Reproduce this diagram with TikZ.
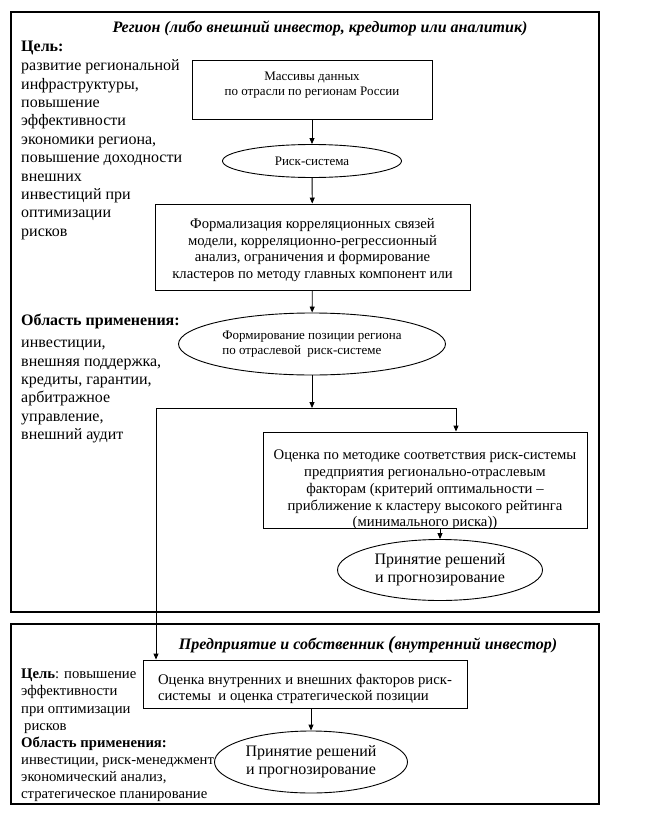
\documentclass[tikz,border=0pt]{standalone}
\usepackage{fontspec}
\setmainfont{Liberation Serif}
\usetikzlibrary{positioning,shapes.geometric,arrows.meta}

\begin{document}
\begin{tikzpicture}[
    x=1pt, y=-1pt,
    frm/.style={draw, line width=1.1pt},
    dbox/.style={draw, line width=0.9pt, inner sep=0pt, align=center},
    oval/.style={draw, ellipse, line width=0.9pt, inner sep=0pt, align=center},
    arr/.style={-{Triangle[length=6pt,width=5pt]}, line width=0.9pt},
    ln/.style={line width=0.9pt},
    ttl/.style={font=\fontsize{16}{17}\selectfont\bfseries\itshape},
    btxt/.style={font=\fontsize{14.7}{16.7}\selectfont, align=center},
    stxt/.style={font=\fontsize{13}{14.5}\selectfont, align=center},
    mtxt/.style={font=\fontsize{16}{18}\selectfont, align=center},
    ltxt/.style={font=\fontsize{16}{18.4}\selectfont, align=left, anchor=north west, inner sep=0pt},
    ktxt/.style={font=\fontsize{14.7}{17.1}\selectfont, align=left, anchor=north west, inner sep=0pt},
]
\useasboundingbox (0,0) rectangle (648,816);

% frames
\draw[frm] (11,12) rectangle (599,612);
\draw[frm] (11,624) rectangle (599,804);

% region part
\node[ttl] (regT) at (320,28) {Регион (либо внешний инвестор, кредитор или аналитик)};
\node[ltxt, font=\fontsize{16}{18.4}\selectfont\bfseries] (goalA) at (21,41) {Цель:};
\node[ltxt] (goalAT) at (21,59.5) {развитие региональной\\инфраструктуры,\\повышение\\эффективности\\экономики региона,\\повышение доходности\\внешних\\инвестиций при\\оптимизации\\рисков};
\node[ltxt, font=\fontsize{16}{18.4}\selectfont\bfseries] (useA) at (21,314) {Область применения:};
\node[ltxt] (useAT) at (21,340) {инвестиции,\\внешняя поддержка,\\кредиты, гарантии,\\арбитражное\\управление,\\внешний аудит};

\node[dbox, minimum width=240, minimum height=59,
      label={[stxt, yshift=4.5pt]center:{Массивы данных\\по отрасли по регионам России}}] (mass) at (312,89.5) {};
\node[oval, stxt, minimum width=179, minimum height=33] (risk) at (312,161) {Риск-система};
\node[dbox, minimum width=315, minimum height=86,
      label={[btxt, font=\fontsize{14.7}{16.4}\selectfont, yshift=-3pt]center:{Формализация корреляционных связей\\модели, корреляционно-регрессионный\\анализ, ограничения и формирование\\кластеров по методу главных компонент или}}] (formal) at (312.5,247) {};
\node[oval, stxt, align=left, minimum width=267, minimum height=62] (pos) at (312,344)
    {Формирование позиции региона\\по отраслевой\ \ риск-системе};

\node[dbox, minimum width=324, minimum height=96] (ocen) at (425,480) {};
\begin{scope}
  \clip (ocen.south west) rectangle (ocen.north east);
  \node[btxt] (ocenT) at ([yshift=-10pt]ocen.center)
    {Оценка по методике соответствия риск-системы\\предприятия регионально-отраслевым\\факторам (критерий оптимальности --\\приближение к кластеру высокого рейтинга\\(минимального риска))};
\end{scope}
\node[oval, mtxt, minimum width=205, minimum height=61] (dec1) at (440,570) {Принятие решений\\и прогнозирование};

% enterprise part
\node[ttl] (entT) at (368,645) {Предприятие и собственник {\fontsize{19}{19}\selectfont(}внутренний инвестор)};
\node[ktxt] (goalB) at (21,669) {\textbf{Цель}: повышение\\эффективности\\при оптимизации\\\hspace{3pt}рисков\\\textbf{Область применения:}\\инвестиции, риск-менеджмент\\экономический анализ,\\стратегическое планирование};
\node[dbox, minimum width=324, minimum height=48,
      label={[btxt, align=left, yshift=-5pt]center:{Оценка внутренних и внешних факторов риск-\\системы\ \ и оценка стратегической позиции}}] (est) at (305,684) {};
\node[oval, mtxt, minimum width=193, minimum height=62] (dec2) at (311,762) {Принятие решений\\и прогнозирование};

% connectors
\coordinate (split) at (312,408);
\coordinate (lft) at (156,408);
\coordinate (rgt) at (456,408);
\draw[arr] (mass) -- (risk);
\draw[arr] (risk) -- (formal);
\draw[arr] (formal) -- (pos);
\draw[arr] (pos) -- (split);
\draw[ln] (lft) -- (rgt);
\draw[arr] (rgt) -- (rgt |- ocen.north);
\draw[arr] (dec1.north |- ocen.south) -- (dec1.north);
\draw[arr] (lft) -- (lft |- est.north);
\draw[arr] (dec2.north |- est.south) -- (dec2.north);
\end{tikzpicture}
\end{document}
